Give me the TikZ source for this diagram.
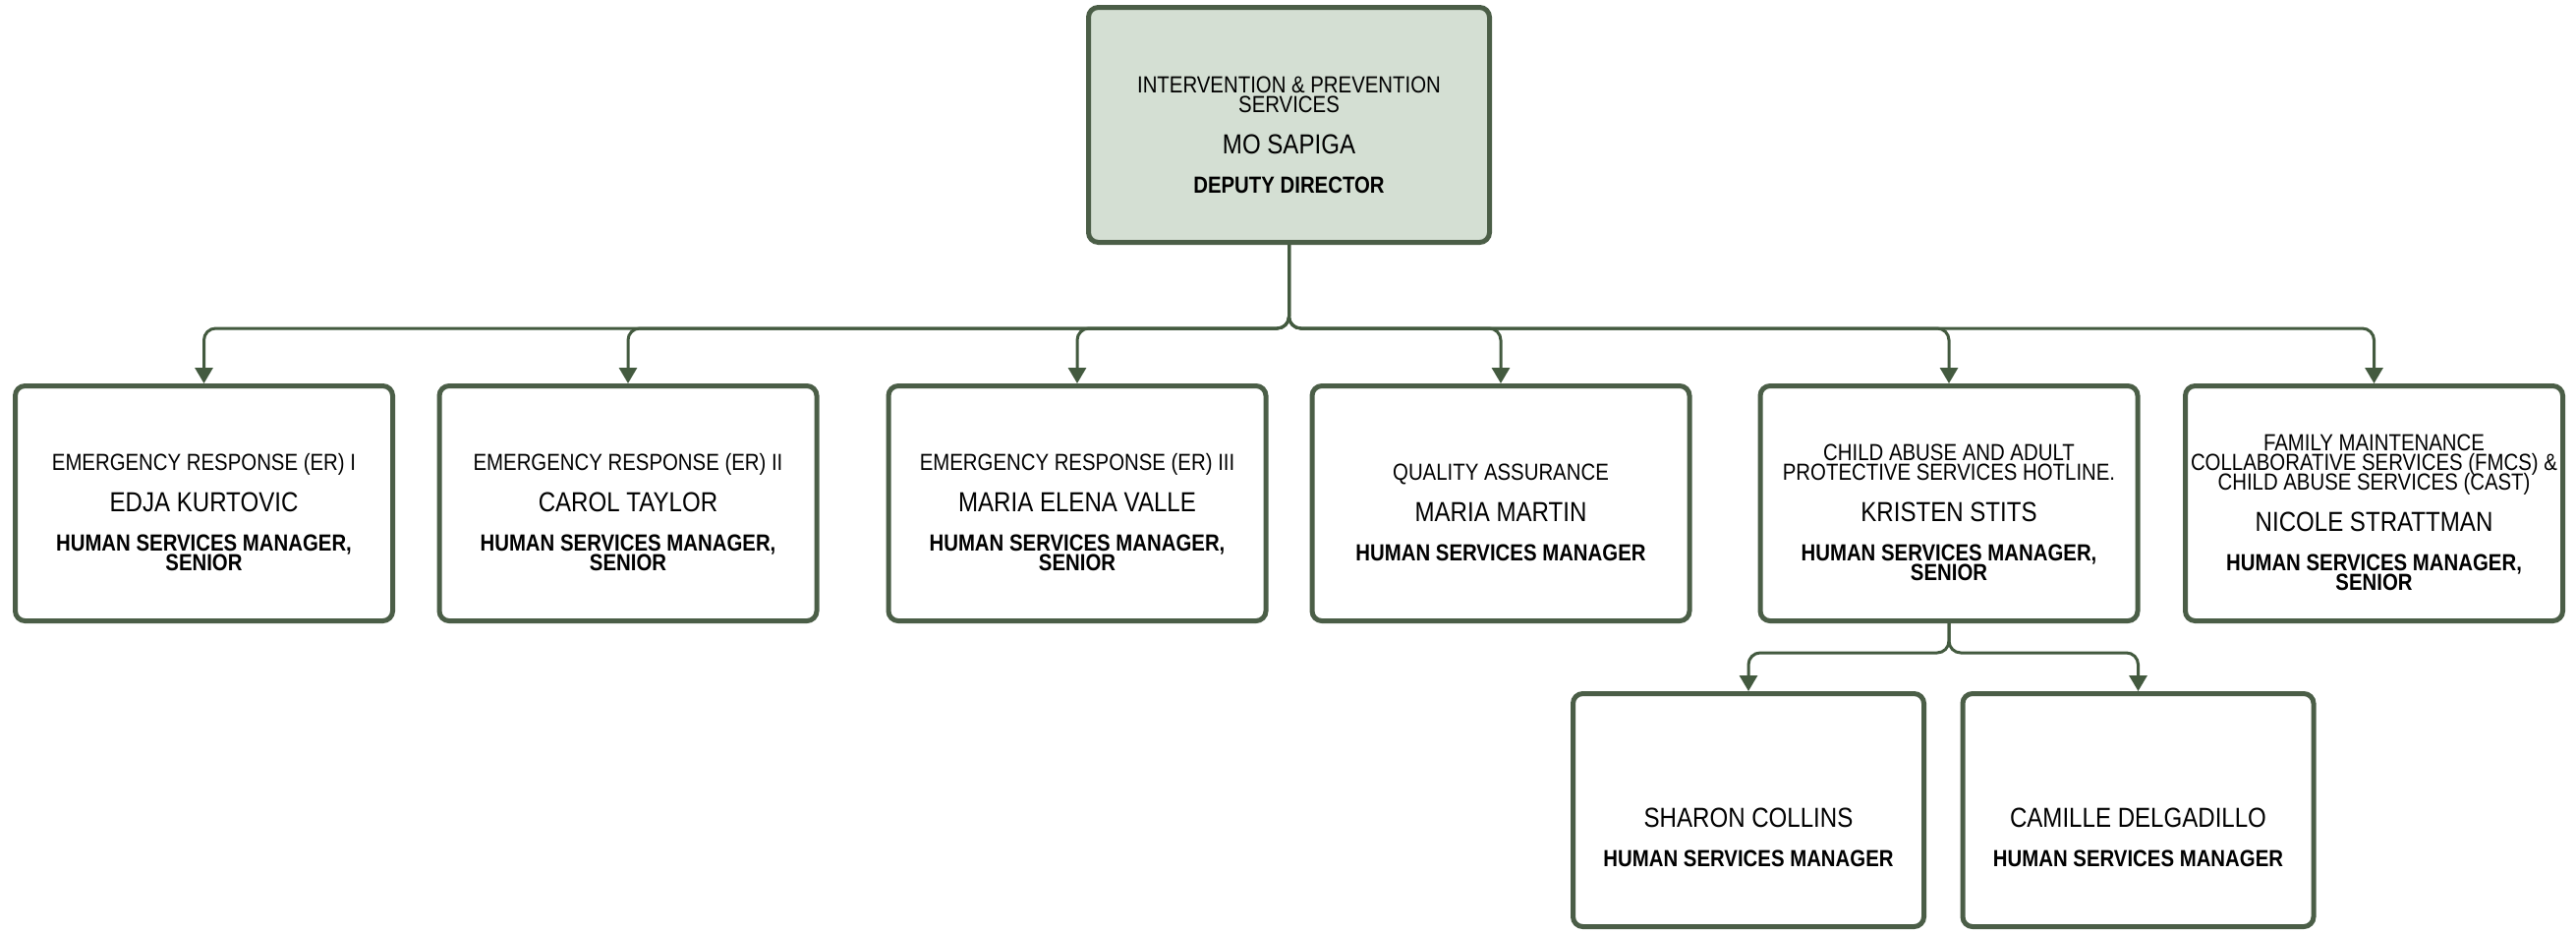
\documentclass[tikz,border=0pt]{standalone}
\usepackage{fontspec}
\setmainfont[FakeStretch=0.86]{Liberation Sans}
\usetikzlibrary{arrows.meta}
\definecolor{bord}{HTML}{4B5E47}
\definecolor{conn}{HTML}{435A3F}
\definecolor{topfill}{HTML}{D4DFD3}
\newcommand{\deptf}{\fontsize{23.7}{20}\selectfont}
\newcommand{\namef}{\fontsize{28}{20}\selectfont}
\newcommand{\titlef}{\fontsize{23.7}{20}\selectfont\bfseries}
\AtBeginDocument{\lineskiplimit=-100pt\lineskip=0pt}
\begin{document}
\begin{tikzpicture}[x=1pt,y=-1pt,
  card/.style={draw=bord, line width=5pt, rounded corners=10pt, fill=white,
    minimum width=384pt, minimum height=239pt, inner sep=0pt},
  topcard/.style={card, fill=topfill, minimum width=408pt, minimum height=239pt},
  subcard/.style={card, minimum width=357pt, minimum height=237pt},
  cardtext/.style={align=center, inner sep=0pt, font=\deptf, text=black},
  link/.style={draw=conn, line width=3pt, rounded corners=12pt,
    -{Triangle[width=18pt,length=16pt]}}]
\fill[white] (0,0) rectangle (2621,948);
\useasboundingbox (0,0) rectangle (2621,948);
% boxes
\node[topcard] (top) at (1311.5,127) {};
\node[card] (b1) at (207.5,512) {};
\node[card] (b2) at (639,512) {};
\node[card] (b3) at (1096,512) {};
\node[card] (b4) at (1527,512) {};
\node[card] (b5) at (1983,512) {};
\node[card] (b6) at (2415.5,512) {};
\node[subcard] (b7) at (1779,824) {};
\node[subcard] (b8) at (2175.5,824) {};
% texts
\node[cardtext] (t0) at ([yshift=-10pt]top.center) {\deptf INTERVENTION \& PREVENTION\\\deptf SERVICES\\[22pt]\namef MO SAPIGA\\[20pt]\titlef DEPUTY DIRECTOR};
\node[cardtext] (t1) at ([yshift=-9pt]b1.center) {\deptf EMERGENCY RESPONSE (ER) I\\[22pt]\namef EDJA KURTOVIC\\[20pt]\titlef HUMAN SERVICES MANAGER,\\\titlef SENIOR};
\node[cardtext] (t2) at ([yshift=-9pt]b2.center) {\deptf EMERGENCY RESPONSE (ER) II\\[22pt]\namef CAROL TAYLOR\\[20pt]\titlef HUMAN SERVICES MANAGER,\\\titlef SENIOR};
\node[cardtext] (t3) at ([yshift=-9pt]b3.center) {\deptf EMERGENCY RESPONSE (ER) III\\[22pt]\namef MARIA ELENA VALLE\\[20pt]\titlef HUMAN SERVICES MANAGER,\\\titlef SENIOR};
\node[cardtext] (t4) at ([yshift=-9pt]b4.center) {\deptf QUALITY ASSURANCE\\[22pt]\namef MARIA MARTIN\\[20pt]\titlef HUMAN SERVICES MANAGER};
\node[cardtext] (t5) at ([yshift=-9pt]b5.center) {\deptf CHILD ABUSE AND ADULT\\\deptf PROTECTIVE SERVICES HOTLINE.\\[22pt]\namef KRISTEN STITS\\[20pt]\titlef HUMAN SERVICES MANAGER,\\\titlef SENIOR};
\node[cardtext] (t6) at ([yshift=-9pt]b6.center) {\deptf FAMILY MAINTENANCE\\\deptf COLLABORATIVE SERVICES (FMCS) \&\\\deptf CHILD ABUSE SERVICES (CAST)\\[22pt]\namef NICOLE STRATTMAN\\[20pt]\titlef HUMAN SERVICES MANAGER,\\\titlef SENIOR};
\node[cardtext] (t7) at ([yshift=-28pt]b7.center) {\namef SHARON COLLINS\\[20pt]\titlef HUMAN SERVICES MANAGER};
\node[cardtext] (t8) at ([yshift=-28pt]b8.center) {\namef CAMILLE DELGADILLO\\[20pt]\titlef HUMAN SERVICES MANAGER};
% connectors
\coordinate (bus) at (1311.5,334);
\coordinate (sub) at (1983,664);
\foreach \c in {b1,b2,b3,b4,b5,b6}
  \draw[link] (top.south) -- (top.south |- bus) -| (\c.north);
\foreach \c in {b7,b8}
  \draw[link] (b5.south) -- (b5.south |- sub) -| (\c.north);
\end{tikzpicture}
\end{document}
